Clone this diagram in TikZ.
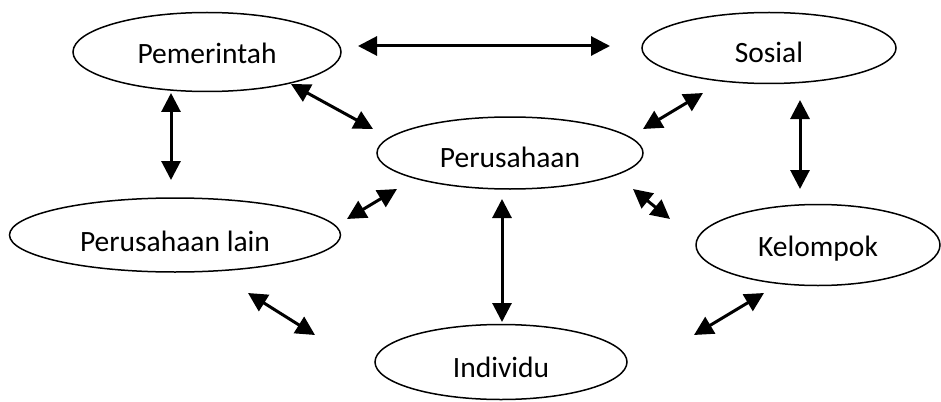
\documentclass[tikz,border=0pt]{standalone}
\usepackage{fontspec}
\setmainfont{Carlito}
\usetikzlibrary{shapes.geometric,arrows.meta}
\begin{document}
\begin{tikzpicture}[x=1pt,y=-1pt,
  ell/.style={draw,ellipse,line width=1.5pt,inner sep=0pt,font=\fontsize{29.5}{33}\selectfont,text depth=0pt},
  conn/.style={line width=3pt,{Triangle[length=19pt,width=19pt]}-{Triangle[length=19pt,width=19pt]}}]
\useasboundingbox (0,0) rectangle (941,401);
\node[ell,minimum width=268pt,minimum height=79pt,text height=23pt] (pem) at (207,52) {Pemerintah};
\node[ell,minimum width=254pt,minimum height=71pt,text height=29pt] (sos) at (769,48) {Sosial};
\node[ell,minimum width=266pt,minimum height=72pt,text height=28pt] (per) at (510,153) {Perusahaan};
\node[ell,minimum width=331pt,minimum height=74pt,text height=32pt] (lain) at (175,235) {Perusahaan lain};
\node[ell,minimum width=244pt,minimum height=81pt,text height=22pt] (kel) at (818,245) {Kelompok};
\node[ell,minimum width=252pt,minimum height=75pt,text height=30pt] (ind) at (501,362) {Individu};
% arrow end points
\coordinate (a1) at (358,46);  \coordinate (b1) at (610,46);
\coordinate (a2) at (291,84);  \coordinate (b2) at (373,129);
\coordinate (a3) at (171,93);  \coordinate (b3) at (171,180);
\coordinate (a4) at (703,93);  \coordinate (b4) at (643,129);
\coordinate (a5) at (800,100); \coordinate (b5) at (800,189);
\coordinate (a6) at (397,189); \coordinate (b6) at (347,219);
\coordinate (a7) at (502,199); \coordinate (b7) at (502,322);
\coordinate (a8) at (633,189); \coordinate (b8) at (670,219);
\coordinate (a9) at (248,293); \coordinate (b9) at (315,335);
\coordinate (a10) at (764,293); \coordinate (b10) at (694,335);
\draw[conn] (a1) -- (b1);
\draw[conn] (a2) -- (b2);
\draw[conn] (a3) -- (b3);
\draw[conn] (a4) -- (b4);
\draw[conn] (a5) -- (b5);
\draw[conn] (a6) -- (b6);
\draw[conn] (a7) -- (b7);
\draw[conn] (a8) -- (b8);
\draw[conn] (a9) -- (b9);
\draw[conn] (a10) -- (b10);
\end{tikzpicture}
\end{document}
